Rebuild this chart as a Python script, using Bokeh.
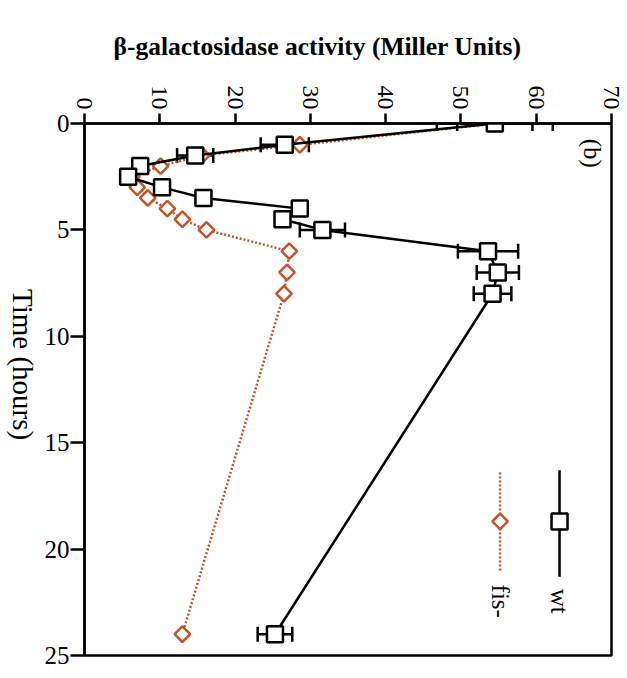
import math
from bokeh.plotting import figure
from bokeh.layouts import row
from bokeh.models import Range1d, FixedTicker, ColumnDataSource, Whisker, TeeHead, Label, Title
from bokeh.embed import file_html
from bokeh.resources import INLINE

# ---- data ----
time_h = [0, 1, 1.5, 2, 2.5, 3, 3.5, 4, 4.5, 5, 6, 7, 8, 24]
wt_activity = [54.5, 26.6, 14.7, 7.4, 5.8, 10.3, 15.8, 28.6, 26.3, 31.6, 53.6, 54.9, 54.2, 25.3]
wt_error = [7.7, 3.2, 2.4, 0, 0, 0, 0, 0, 0, 3.0, 4.0, 2.8, 2.5, 2.3]
fis_activity = [54.5, 28.6, 15.6, 10.1, 6.3, 7.0, 8.4, 11.0, 13.0, 16.2, 27.2, 26.9, 26.5, 13.0]
fis_error = [5.0, 0, 0, 0, 0, 0, 0, 0, 0, 0, 0, 0, 0, 0]
x_ticks = [0, 10, 20, 30, 40, 50, 60, 70]
y_ticks = [0, 5, 10, 15, 20, 25]
series_names = ["wt", "fis-"]

RED = "#c4532b"
FONT = "Liberation Serif"

STRIP_W = 40
time_range = Range1d(25, 0)

p = figure(width=627 - STRIP_W, height=678, output_backend="svg", toolbar_location=None,
           x_range=Range1d(0, 70), y_range=time_range,
           x_axis_location="above", y_axis_location="left",
           min_border_left=44, min_border_right=16, min_border_top=123, min_border_bottom=23)
p.grid.visible = False
p.background_fill_color = "white"
p.border_fill_color = "white"
p.outline_line_color = "black"
p.outline_line_width = 2.5

xa = p.xaxis[0]
xa.ticker = FixedTicker(ticks=x_ticks)
xa.major_label_orientation = -math.pi / 2
xa.major_tick_out = 10
xa.major_tick_in = 0
xa.minor_tick_out = 0
xa.minor_tick_in = 0
xa.axis_line_width = 2.5
xa.major_tick_line_width = 2.5
xa.major_label_text_font = FONT
xa.major_label_text_font_size = "24px"
xa.major_label_text_color = "black"
xa.major_label_standoff = 4

ya = p.yaxis[0]
ya.ticker = FixedTicker(ticks=y_ticks)
ya.major_tick_out = 14
ya.major_tick_in = 0
ya.minor_tick_out = 0
ya.minor_tick_in = 0
ya.axis_line_width = 2.5
ya.major_tick_line_width = 2.5
ya.major_label_text_font = FONT
ya.major_label_text_font_size = "25px"
ya.major_label_text_color = "black"
ya.major_label_standoff = 1

# title of the activity axis
p.add_layout(Title(text="β-galactosidase activity (Miller Units)", align="left", offset=29,
                   standoff=44, text_font=FONT, text_font_size="25.5px", text_font_style="bold",
                   text_color="black"), "above")

# error bars
def whisker_source(vals, errs):
    idx = [i for i, e in enumerate(errs) if e > 0]
    return ColumnDataSource(dict(
        t=[time_h[i] for i in idx],
        lo=[vals[i] - errs[i] for i in idx],
        hi=[vals[i] + errs[i] for i in idx]))

for vals, errs in [(fis_activity, fis_error), (wt_activity, wt_error)]:
    src = whisker_source(vals, errs)
    w = Whisker(source=src, base="t", lower="lo", upper="hi", dimension="width",
                line_color="black", line_width=2.5,
                lower_head=TeeHead(size=15, line_color="black", line_width=2.5),
                upper_head=TeeHead(size=15, line_color="black", line_width=2.5))
    p.add_layout(w)

# fis- series
p.line(fis_activity, time_h, line_color=RED, line_width=2.5, line_dash="2 2")
p.scatter(fis_activity, time_h, marker="square", angle=math.pi / 4, size=11, fill_color="white",
          line_color=RED, line_width=2.5)

# wt series
p.line(wt_activity, time_h, line_color="black", line_width=2.5)
p.scatter(wt_activity, time_h, marker="square", size=16, fill_color="white",
          line_color="black", line_width=2.5)

# legend (rotated, drawn manually)
leg_x = [63.1, 55.2]
p.segment(x0=[leg_x[0]], y0=[16.3], x1=[leg_x[0]], y1=[21.3], line_color="black", line_width=2.5)
p.scatter([leg_x[0]], [18.7], marker="square", size=16, fill_color="white", line_color="black", line_width=2.5)
p.segment(x0=[leg_x[1]], y0=[16.4], x1=[leg_x[1]], y1=[21.1], line_color=RED, line_width=2.5, line_dash="2 2")
p.scatter([leg_x[1]], [18.7], marker="square", angle=math.pi / 4, size=11, fill_color="white",
          line_color=RED, line_width=2.5)
for xx, name in zip(leg_x, series_names):
    p.add_layout(Label(x=xx, y=22.45, text=name, angle=-math.pi / 2, text_align="center",
                       text_baseline="middle", text_font=FONT, text_font_size="25px", text_color="black"))

# panel label
p.add_layout(Label(x=67.5, y=1.4, text="(b)", angle=-math.pi / 2, text_align="center",
                   text_baseline="middle", text_font=FONT, text_font_size="25px", text_color="black"))

# narrow strip on the left carrying the rotated time-axis title
lf = figure(width=STRIP_W, height=678, output_backend="svg", toolbar_location=None,
            x_range=Range1d(0, STRIP_W), y_range=time_range,
            x_axis_location=None, y_axis_location=None,
            min_border_left=0, min_border_right=0, min_border_top=123, min_border_bottom=23)
lf.grid.visible = False
lf.outline_line_color = None
lf.background_fill_color = "white"
lf.border_fill_color = "white"
lf.add_layout(Label(x=22, y=11.33, text="Time (hours)", angle=-math.pi / 2, text_align="center",
                    text_baseline="middle", text_font=FONT, text_font_size="29px", text_color="black"))

layout = row(lf, p, spacing=0)
open("out.html", "w").write(file_html(layout, INLINE))
